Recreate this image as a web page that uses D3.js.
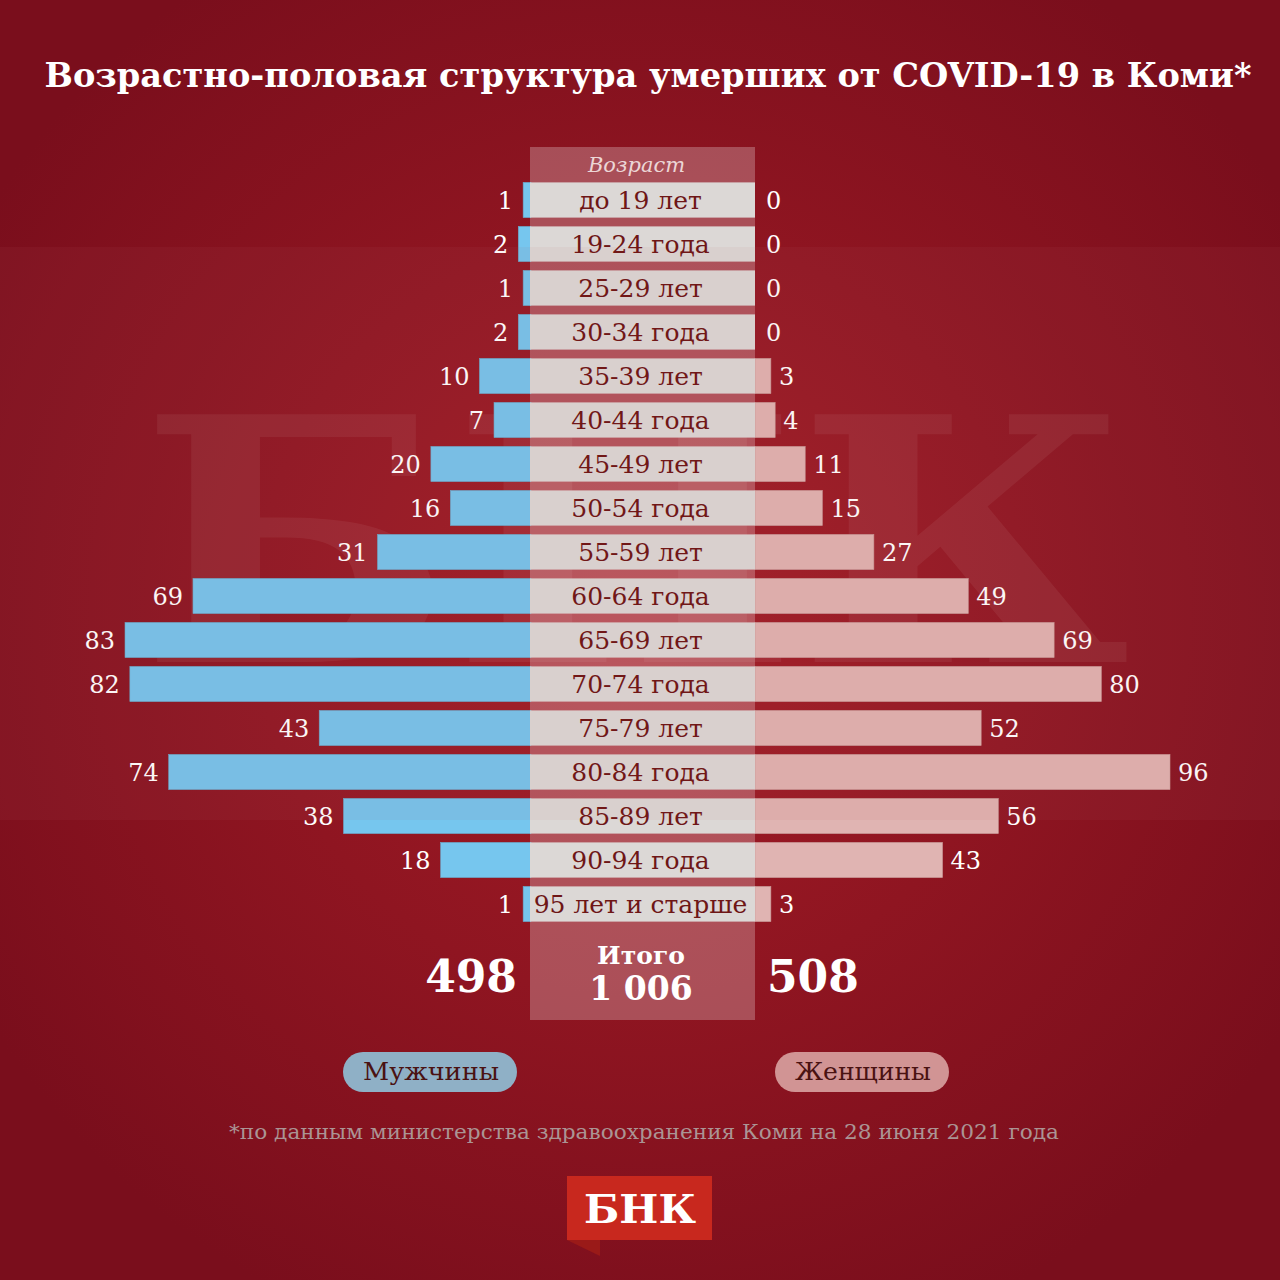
<!DOCTYPE html>
<html>
<head>
<meta charset="utf-8">
<script src="https://cdn.jsdelivr.net/npm/d3@7"></script>
<style>
  body { margin: 0; background: #7d0f1c; }
  svg { display: block; }
</style>
</head>
<body>
<div id="chart"></div>
<script>
const ages = ["до 19 лет", "19-24 года", "25-29 лет", "30-34 года", "35-39 лет", "40-44 года",
    "45-49 лет", "50-54 года", "55-59 лет", "60-64 года", "65-69 лет", "70-74 года",
    "75-79 лет", "80-84 года", "85-89 лет", "90-94 года", "95 лет и старше"]
const men = [1, 2, 1, 2, 10, 7, 20, 16, 31, 69, 83, 82, 43, 74, 38, 18, 1]
const women = [0, 0, 0, 0, 3, 4, 11, 15, 27, 49, 69, 80, 52, 96, 56, 43, 3]
const totalMen = 498
const totalWomen = 508
const totalAll = "1 006"

const width = 1280
const height = 1280
const serif = "'DejaVu Serif', 'Liberation Serif', serif"

const svg = d3.select("#chart")
    .append("svg")
    .attr("width", width)
    .attr("height", height)

const defs = svg.append("defs")
const grad = defs.append("radialGradient")
    .attr("id", "bg")
    .attr("cx", "50%").attr("cy", "48%").attr("r", "60%")
grad.append("stop").attr("offset", "0%").attr("stop-color", "#a41c26")
grad.append("stop").attr("offset", "100%").attr("stop-color", "#7a0e1c")

svg.append("rect")
    .attr("width", width)
    .attr("height", height)
    .attr("fill", "url(#bg)")

// lighter horizontal band behind the logo watermark
svg.append("rect")
    .attr("x", 0).attr("y", 247)
    .attr("width", width).attr("height", 573)
    .attr("fill", "#ffffff")
    .attr("opacity", 0.025)

// watermark (background decoration)
svg.append("text")
    .attr("aria-hidden", "true")
    .attr("x", 140)
    .attr("y", 662)
    .attr("textLength", 990)
    .attr("lengthAdjust", "spacingAndGlyphs")
    .style("font-family", serif)
    .style("font-weight", "bold")
    .style("font-size", "340px")
    .attr("fill", "#ffffff")
    .attr("opacity", 0.06)
    .text("БНК")

// title
svg.append("text")
    .attr("x", 648)
    .attr("y", 87)
    .attr("text-anchor", "middle")
    .attr("textLength", 1207)
    .attr("lengthAdjust", "spacingAndGlyphs")
    .style("font-family", serif)
    .style("font-weight", "bold")
    .style("font-size", "34px")
    .attr("fill", "#ffffff")
    .text("Возрастно-половая структура умерших от COVID-19 в Коми*")

// scales
const yScale = d3.scaleBand()
    .domain(ages)
    .range([178, 926])
    .paddingInner(0.2)
    .paddingOuter(0.1)

const colLeft = 530
const colRight = 755

const xMen = d3.scaleLinear()
    .domain([0, 83])
    .range([528, 125])

const xWomen = d3.scaleLinear()
    .domain([0, 96])
    .range([758, 1170])

const rows = ages.map((a, i) => ({ age: a, m: men[i], w: women[i] }))

// center column
svg.append("rect")
    .attr("x", colLeft).attr("y", 147)
    .attr("width", colRight - colLeft).attr("height", 873)
    .attr("fill", "#ffffff")
    .attr("opacity", 0.25)

svg.append("text")
    .attr("x", (colLeft + colRight) / 2 - 6)
    .attr("y", 172)
    .attr("text-anchor", "middle")
    .style("font-family", serif)
    .style("font-style", "italic")
    .style("font-size", "21px")
    .attr("fill", "#ecd6d6")
    .text("Возраст")

const rowGroups = svg.append("g")
    .selectAll("g")
    .data(rows)
    .join("g")

rowGroups.append("rect")
    .attr("x", d => xMen(d.m))
    .attr("y", d => yScale(d.age))
    .attr("width", d => colLeft + 1 - xMen(d.m))
    .attr("height", yScale.bandwidth())
    .attr("fill", "#76c6ee")
    .attr("stroke", "#6aa8c8")
    .attr("stroke-width", 0.6)

rowGroups.filter(d => d.w > 0).append("rect")
    .attr("x", colRight)
    .attr("y", d => yScale(d.age))
    .attr("width", d => xWomen(d.w) - colRight)
    .attr("height", yScale.bandwidth())
    .attr("fill", "#e0b4b2")
    .attr("stroke", "#c99a98")
    .attr("stroke-width", 0.6)

// label boxes
rowGroups.append("rect")
    .attr("x", colLeft)
    .attr("y", d => yScale(d.age))
    .attr("width", colRight - colLeft)
    .attr("height", yScale.bandwidth())
    .attr("fill", "#dcd8d6")

rowGroups.append("text")
    .attr("x", (colLeft + colRight) / 2 - 2)
    .attr("y", d => yScale(d.age) + yScale.bandwidth() / 2 + 9)
    .attr("text-anchor", "middle")
    .style("font-family", serif)
    .style("font-size", "25px")
    .attr("fill", "#6e1616")
    .text(d => d.age)

rowGroups.append("text")
    .attr("x", d => xMen(d.m) - 10)
    .attr("y", d => yScale(d.age) + yScale.bandwidth() / 2 + 9)
    .attr("text-anchor", "end")
    .style("font-family", serif)
    .style("font-size", "24px")
    .attr("fill", "#ffffff")
    .text(d => d.m)

rowGroups.append("text")
    .attr("x", d => Math.max(xWomen(d.w), colRight) + 8)
    .attr("y", d => yScale(d.age) + yScale.bandwidth() / 2 + 9)
    .style("font-family", serif)
    .style("font-size", "24px")
    .attr("fill", "#ffffff")
    .text(d => d.w)

// slight tint over the watermark band
svg.append("rect")
    .attr("x", 0).attr("y", 247)
    .attr("width", width).attr("height", 573)
    .attr("fill", "#b03a3a")
    .attr("opacity", 0.05)
    .style("pointer-events", "none")

// totals
svg.append("text")
    .attr("x", 517).attr("y", 992)
    .attr("text-anchor", "end")
    .style("font-family", serif)
    .style("font-weight", "bold")
    .style("font-size", "44px")
    .attr("fill", "#ffffff")
    .text(totalMen)

svg.append("text")
    .attr("x", 767).attr("y", 992)
    .style("font-family", serif)
    .style("font-weight", "bold")
    .style("font-size", "44px")
    .attr("fill", "#ffffff")
    .text(totalWomen)

svg.append("text")
    .attr("x", 641).attr("y", 964)
    .attr("text-anchor", "middle")
    .style("font-family", serif)
    .style("font-weight", "bold")
    .style("font-size", "25px")
    .attr("fill", "#ffffff")
    .text("Итого")

svg.append("text")
    .attr("x", 641).attr("y", 1000)
    .attr("text-anchor", "middle")
    .style("font-family", serif)
    .style("font-weight", "bold")
    .style("font-size", "33px")
    .attr("fill", "#ffffff")
    .text(totalAll)

// legend
const legend = [
    { label: "Мужчины", x: 343, fill: "#8fb0c6" },
    { label: "Женщины", x: 775, fill: "#d19494" },
]
const leg = svg.append("g")
    .selectAll("g")
    .data(legend)
    .join("g")
leg.append("rect")
    .attr("x", d => d.x).attr("y", 1052)
    .attr("width", 174).attr("height", 40)
    .attr("rx", 20)
    .attr("fill", d => d.fill)
leg.append("text")
    .attr("x", d => d.x + 88).attr("y", 1080)
    .attr("text-anchor", "middle")
    .attr("textLength", 136)
    .attr("lengthAdjust", "spacingAndGlyphs")
    .style("font-family", serif)
    .style("font-size", "25px")
    .attr("fill", "#4a1212")
    .text(d => d.label)

svg.append("text")
    .attr("x", 644).attr("y", 1139)
    .attr("text-anchor", "middle")
    .attr("textLength", 830)
    .attr("lengthAdjust", "spacingAndGlyphs")
    .style("font-family", serif)
    .style("font-size", "21px")
    .attr("fill", "#ab9494")
    .text("*по данным министерства здравоохранения Коми на 28 июня 2021 года")

// logo
svg.append("path")
    .attr("d", "M567,1240 L600,1240 L600,1256 Z")
    .attr("fill", "#9a1a18")
svg.append("rect")
    .attr("x", 567).attr("y", 1176)
    .attr("width", 145).attr("height", 64)
    .attr("fill", "#c8281e")
svg.append("text")
    .attr("x", 640).attr("y", 1223)
    .attr("text-anchor", "middle")
    .attr("textLength", 112)
    .attr("lengthAdjust", "spacingAndGlyphs")
    .style("font-family", serif)
    .style("font-weight", "bold")
    .style("font-size", "40px")
    .attr("fill", "#ffffff")
    .text("БНК")
</script>
</body>
</html>
